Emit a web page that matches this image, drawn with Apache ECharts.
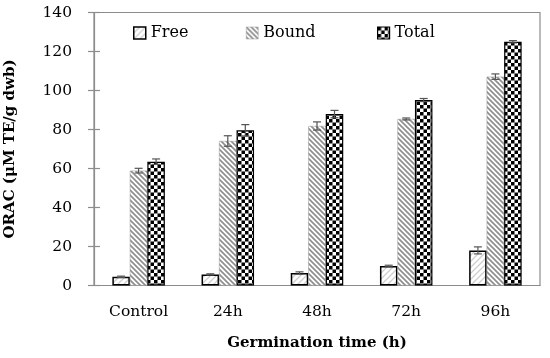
<!DOCTYPE html>
<html>
<head>
<meta charset="utf-8">
<script src="https://cdn.jsdelivr.net/npm/echarts@6/dist/echarts.min.js"></script>
<style>html,body{margin:0;padding:0;background:#fff}#c{width:550px;height:358px}</style>
</head>
<body>
<div id="c"></div>
<script>
var categories = ['Control', '24h', '48h', '72h', '96h'];
var seriesNames = ['Free', 'Bound', 'Total'];
var freeVals = [4.5, 5.7, 6.4, 10.0, 18.0];
var boundVals = [58.9, 74.1, 81.8, 85.4, 107.1];
var totalVals = [63.5, 79.6, 87.9, 95.1, 125.0];
var freeErr = [0.3, 0.3, 0.6, 0.4, 1.8];
var boundErr = [1.2, 2.7, 2.1, 0.5, 1.4];
var totalErr = [1.4, 2.9, 1.9, 0.8, 0.6];
var yTicks = [0, 20, 40, 60, 80, 100, 120, 140];

function makePattern(kind) {
  var c = document.createElement('canvas');
  var ctx;
  if (kind === 'free') {
    c.width = 6; c.height = 6; ctx = c.getContext('2d');
    ctx.fillStyle = '#fff'; ctx.fillRect(0, 0, 6, 6);
    ctx.strokeStyle = '#cfcfcf'; ctx.lineWidth = 1.3;
    ctx.beginPath();
    ctx.moveTo(-1, 7); ctx.lineTo(7, -1);
    ctx.moveTo(-1, 1); ctx.lineTo(1, -1);
    ctx.moveTo(5, 7); ctx.lineTo(7, 5);
    ctx.stroke();
  } else if (kind === 'bound') {
    c.width = 5; c.height = 5; ctx = c.getContext('2d');
    ctx.fillStyle = '#fff'; ctx.fillRect(0, 0, 5, 5);
    ctx.strokeStyle = '#8f8f8f'; ctx.lineWidth = 1.7;
    ctx.beginPath();
    ctx.moveTo(-1, -1); ctx.lineTo(6, 6);
    ctx.moveTo(4, -1); ctx.lineTo(6, 1);
    ctx.moveTo(-1, 4); ctx.lineTo(1, 6);
    ctx.stroke();
  } else {
    c.width = 7; c.height = 7; ctx = c.getContext('2d');
    ctx.fillStyle = '#fff'; ctx.fillRect(0, 0, 7, 7);
    ctx.fillStyle = '#000';
    ctx.fillRect(0, 0, 3.5, 3.5); ctx.fillRect(3.5, 3.5, 3.5, 3.5);
  }
  return { image: c, repeat: 'repeat' };
}

var styles = {
  Free: { color: makePattern('free'), borderColor: '#000', borderWidth: 1.5 },
  Bound: { color: makePattern('bound'), borderColor: '#999', borderWidth: 0.5 },
  Total: { color: makePattern('total'), borderColor: '#000', borderWidth: 1.2 }
};

var valueSets = [freeVals, boundVals, totalVals];
var errSets = [freeErr, boundErr, totalErr];

var font = '"DejaVu Serif", serif';
var chart = echarts.init(document.getElementById('c'), null, { renderer: 'canvas' });

var series = [];
seriesNames.forEach(function (n, i) {
  series.push({
    name: n, type: 'bar', data: valueSets[i],
    barWidth: 17.5, barGap: '0%',
    itemStyle: styles[n],
    emphasis: { disabled: true },
    z: 2
  });
});

var offsets = [-17.5, 0, 17.5];
seriesNames.forEach(function (n, i) {
  var d = categories.map(function (c, j) { return [j, valueSets[i][j], errSets[i][j]]; });
  series.push({
    type: 'custom', name: n + ' err', silent: true, z: 5,
    data: d,
    renderItem: function (params, api) {
      var x = api.value(0), v = api.value(1), e = api.value(2);
      var hi = api.coord([x, v + e]);
      var lo = api.coord([x, v - e]);
      var cx = hi[0] + offsets[i];
      var cap = 4;
      var st = { stroke: '#555', lineWidth: 1.2 };
      return {
        type: 'group',
        children: [
          { type: 'line', shape: { x1: cx, y1: hi[1], x2: cx, y2: lo[1] }, style: st },
          { type: 'line', shape: { x1: cx - cap, y1: hi[1], x2: cx + cap, y2: hi[1] }, style: st },
          { type: 'line', shape: { x1: cx - cap, y1: lo[1], x2: cx + cap, y2: lo[1] }, style: st }
        ]
      };
    }
  });
});

var legendLefts = [133, 246, 377];
var legends = seriesNames.map(function (n, i) {
  return {
    data: [{ name: n, itemStyle: styles[n] }],
    top: 25, left: legendLefts[i], padding: 0,
    itemWidth: 12, itemHeight: 12, icon: 'rect',
    textStyle: { fontFamily: font, fontSize: 16, color: '#000' },
    selectedMode: false
  };
});

chart.setOption({
  animation: false,
  backgroundColor: '#fff',
  grid: { left: 94, right: 10, top: 12.5, bottom: 72.5, show: true, borderColor: '#8c8c8c', borderWidth: 1.2, containLabel: false, outerBoundsMode: 'none' },
  legend: legends,
  xAxis: {
    type: 'category', data: categories,
    axisLine: { lineStyle: { color: '#8c8c8c', width: 1.2 } },
    axisTick: { show: false },
    axisLabel: { fontFamily: font, fontSize: 15.5, color: '#000', margin: 18 },
    name: 'Germination time (h)', nameLocation: 'middle', nameGap: 50,
    nameTextStyle: { fontFamily: font, fontSize: 15, fontWeight: 'bold', color: '#000' }
  },
  yAxis: [{
    type: 'value', min: 0, max: 140, interval: 20,
    splitLine: { show: false },
    axisLine: { show: true, lineStyle: { color: '#8c8c8c', width: 1.2 } },
    axisTick: { show: true, length: 6, lineStyle: { color: '#8c8c8c', width: 1.2 } },
    axisLabel: { fontFamily: font, fontSize: 15.5, color: '#000', margin: 22,
      formatter: function (v) { return yTicks.indexOf(v) >= 0 ? String(v) : ''; } },
    name: 'ORAC (μM TE/g dwb)', nameLocation: 'middle', nameGap: 76,
    nameTextStyle: { fontFamily: font, fontSize: 15, fontWeight: 'bold', color: '#000' }
  }, {
    type: 'value', min: 0, max: 140, interval: 20, position: 'left',
    splitLine: { show: false },
    axisLine: { show: false },
    axisTick: { show: true, inside: true, length: 6, lineStyle: { color: '#8c8c8c', width: 1.2 } },
    axisLabel: { show: false }
  }],
  series: series
});
</script>
</body>
</html>
